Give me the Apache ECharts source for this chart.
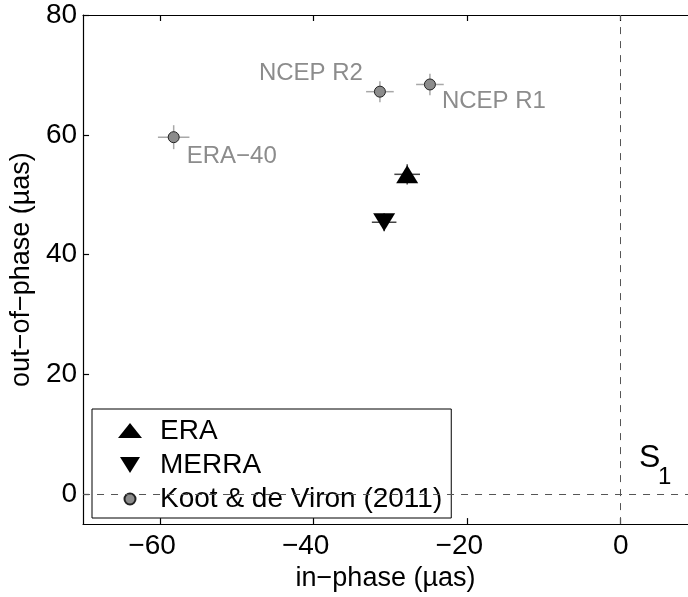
<!DOCTYPE html>
<html>
<head>
<meta charset="utf-8">
<script src="https://cdn.jsdelivr.net/npm/echarts@6/dist/echarts.min.js"></script>
<style>
html, body { margin: 0; padding: 0; background: #fff; }
#chart { width: 688px; height: 597px; }
</style>
</head>
<body>
<div id="chart"></div>
<script>
// axis ticks
var xTicks = [-60, -40, -20, 0];
var yTicks = [0, 20, 40, 60, 80];

// Koot & de Viron (2011)
var kootNames = ['ERA−40', 'NCEP R2', 'NCEP R1'];
var kootIn = [-58.2, -31.35, -24.84];
var kootOut = [59.6, 67.2, 68.4];
var kootInErr = [2.05, 1.8, 1.8];
var kootOutErr = [2.0, 1.75, 1.8];

// ERA
var eraIn = [-27.8];
var eraOut = [53.4];
var eraInErr = [1.67];
var eraOutErr = [1.7];

// MERRA
var merraIn = [-30.8];
var merraOut = [45.4];
var merraInErr = [1.6];
var merraOutErr = [1.5];

var FONT = '"Liberation Sans", Arial, Helvetica, sans-serif';
var GRAY = '#8c8c8c';

// label placement for the grey points (offset from the marker, in px)
var kootLabel = [
  { align: 'left', offset: [13, 19] },
  { align: 'right', offset: [-17, -18] },
  { align: 'left', offset: [12, 17] }
];

function pts(xs, ys) {
  var out = [];
  for (var i = 0; i < xs.length; i++) out.push([xs[i], ys[i]]);
  return out;
}
function errs(xs, ys, ex, ey) {
  var out = [];
  for (var i = 0; i < xs.length; i++) out.push([xs[i], ys[i], ex[i], ey[i]]);
  return out;
}
function errorBars(color) {
  return function (params, api) {
    var x = api.value(0), y = api.value(1), ex = api.value(2), ey = api.value(3);
    var l = api.coord([x - ex, y]), r = api.coord([x + ex, y]);
    var t = api.coord([x, y + ey]), b = api.coord([x, y - ey]);
    var st = { stroke: color, lineWidth: 1.5 };
    return {
      type: 'group',
      children: [
        { type: 'line', shape: { x1: l[0], y1: l[1], x2: r[0], y2: r[1] }, style: st },
        { type: 'line', shape: { x1: t[0], y1: t[1], x2: b[0], y2: b[1] }, style: st }
      ]
    };
  };
}

var kootData = [];
for (var i = 0; i < kootNames.length; i++) {
  kootData.push({
    value: [kootIn[i], kootOut[i]],
    label: {
      show: true,
      formatter: kootNames[i],
      position: 'inside',
      align: kootLabel[i].align,
      verticalAlign: 'middle',
      offset: kootLabel[i].offset,
      color: GRAY,
      fontSize: 24,
      fontFamily: FONT
    }
  });
}

var upIcon = 'path://M0,0M50,20M13,17L25,2L37,17Z';
var downIcon = 'path://M0,0M50,20M15,2L35,2L25,18Z';
var dotIcon = 'path://M0,0M50,20M19.5,10A5.5,5.5 0 1,1 30.5,10A5.5,5.5 0 1,1 19.5,10Z';

var axisLine = { show: true, onZero: false, lineStyle: { color: '#000', width: 1.2 } };

var chart = echarts.init(document.getElementById('chart'));
chart.setOption({
  animation: false,
  backgroundColor: '#fff',
  grid: { left: 83, right: 0, top: 15, bottom: 70.5, containLabel: false },
  xAxis: [{
    type: 'value',
    min: -70,
    max: 8.76,
    position: 'bottom',
    name: 'in−phase (µas)',
    nameLocation: 'middle',
    nameGap: 33,
    nameTextStyle: { fontSize: 27, color: '#000', fontFamily: FONT },
    axisLine: axisLine,
    axisTick: { show: true, inside: true, length: 6, customValues: xTicks, lineStyle: { color: '#000', width: 1.2 } },
    axisLabel: {
      customValues: xTicks,
      margin: 8,
      fontSize: 28,
      color: '#000',
      fontFamily: FONT,
      formatter: function (v) { return v < 0 ? '−' + Math.abs(v) + '\u00a0\u00a0' : String(v); }
    },
    splitLine: { show: false }
  }, {
    type: 'value',
    min: -70,
    max: 8.76,
    position: 'top',
    axisLine: axisLine,
    axisTick: { show: true, inside: true, length: 6, customValues: xTicks, lineStyle: { color: '#000', width: 1.2 } },
    axisLabel: { show: false },
    splitLine: { show: false }
  }],
  yAxis: {
    type: 'value',
    min: -5,
    max: 80,
    name: 'out−of−phase (µas)',
    nameLocation: 'middle',
    nameGap: 34,
    nameTextStyle: { fontSize: 27, color: '#000', fontFamily: FONT },
    axisLine: axisLine,
    axisTick: { show: true, inside: true, length: 6, customValues: yTicks, lineStyle: { color: '#000', width: 1.2 } },
    axisLabel: { customValues: yTicks, margin: 6, fontSize: 28, color: '#000', fontFamily: FONT },
    splitLine: { show: false }
  },
  legend: {
    orient: 'vertical',
    left: 92,
    top: 409,
    padding: [8, 9, 5, 12],
    itemWidth: 50,
    itemHeight: 20,
    itemGap: 6,
    backgroundColor: '#fff',
    borderColor: '#000',
    borderWidth: 1,
    borderRadius: 0,
    selectedMode: false,
    textStyle: { fontSize: 28, color: '#000', fontFamily: FONT },
    data: [
      { name: 'ERA', icon: upIcon },
      { name: 'MERRA', icon: downIcon },
      { name: 'Koot & de Viron (2011)', icon: dotIcon }
    ]
  },
  graphic: [
    { type: 'text', left: 639, top: 442, style: { text: 'S', fontSize: 32, fill: '#000', fontFamily: FONT } },
    { type: 'text', left: 658, top: 465, style: { text: '1', fontSize: 24, fill: '#000', fontFamily: FONT } }
  ],
  series: [
    {
      type: 'custom',
      name: 'kootErr',
      renderItem: errorBars('#a8a8a8'),
      data: errs(kootIn, kootOut, kootInErr, kootOutErr),
      encode: { x: 0, y: 1 },
      z: 3,
      silent: true,
      markLine: {
        silent: true,
        symbol: ['none', 'none'],
        label: { show: false },
        lineStyle: { color: '#555', type: [7, 7], width: 1 },
        data: [{ xAxis: 0 }, { yAxis: 0 }]
      }
    },
    {
      type: 'custom',
      name: 'modelErr',
      renderItem: errorBars('#444'),
      data: errs(eraIn.concat(merraIn), eraOut.concat(merraOut), eraInErr.concat(merraInErr), eraOutErr.concat(merraOutErr)),
      encode: { x: 0, y: 1 },
      z: 3,
      silent: true
    },
    {
      type: 'scatter',
      name: 'Koot & de Viron (2011)',
      symbol: 'circle',
      symbolSize: 11,
      itemStyle: { color: GRAY, borderColor: '#222', borderWidth: 1, opacity: 1 },
      data: kootData,
      z: 4
    },
    {
      type: 'scatter',
      name: 'ERA',
      symbol: 'triangle',
      symbolSize: [22, 18],
      itemStyle: { color: '#000', opacity: 1 },
      data: pts(eraIn, eraOut),
      z: 4
    },
    {
      type: 'scatter',
      name: 'MERRA',
      symbol: 'triangle',
      symbolRotate: 180,
      symbolSize: [22, 18],
      itemStyle: { color: '#000', opacity: 1 },
      data: pts(merraIn, merraOut),
      z: 4
    }
  ]
});
</script>
</body>
</html>
